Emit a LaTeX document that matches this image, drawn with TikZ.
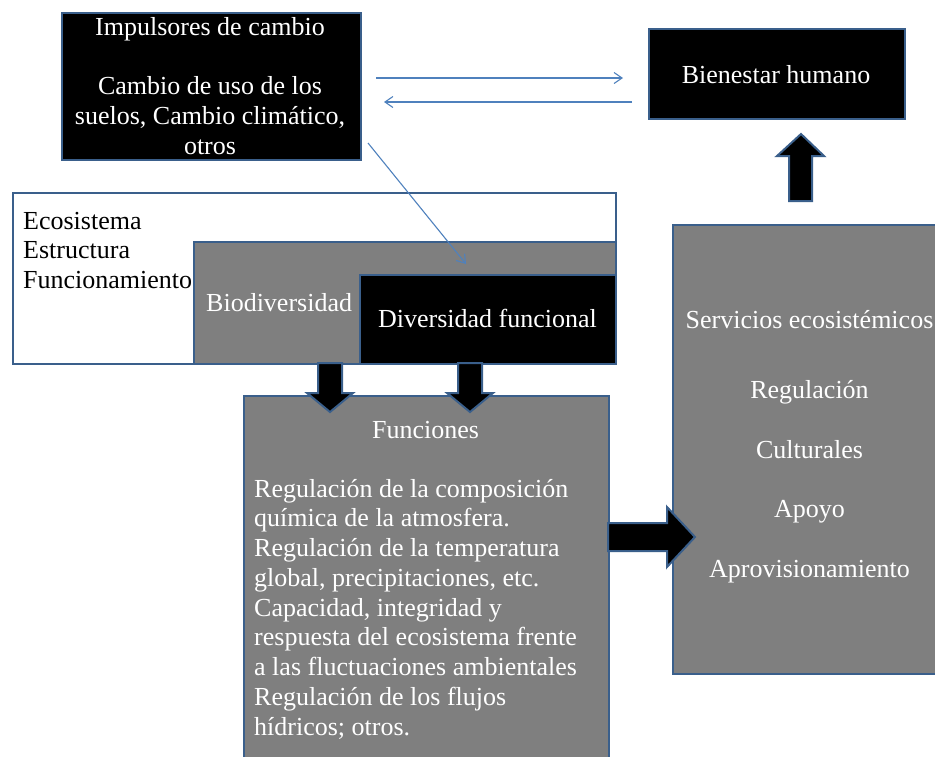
\documentclass[tikz,border=0pt]{standalone}
\usepackage{fontspec}
\setmainfont{Liberation Serif}
\usetikzlibrary{arrows.meta}
\definecolor{bord}{RGB}{58,95,139}
\definecolor{thin}{RGB}{79,129,189}
\definecolor{midgray}{RGB}{127,127,127}
\tikzset{
  box/.style={draw=bord, line width=2pt, inner sep=0pt, anchor=north west},
  txt/.style={font=\fontsize{26}{29.75}\selectfont, text=white, inner sep=0pt, anchor=base},
  txtl/.style={txt, anchor=base west},
  thinarrow/.style={draw=thin, line width=1.1pt, -{Straight Barb[length=8pt,width=11pt]}},
  blockarrow/.style={fill=black, draw=bord, line width=2pt, line join=miter}
}
\begin{document}
\begin{tikzpicture}[x=1pt,y=-1pt]
\useasboundingbox (0,0) rectangle (935,756);
% boxes
\node[box, fill=black, minimum width=299pt, minimum height=147pt] (imp) at (61,12) {};
\node[box, fill=black, minimum width=256pt, minimum height=90pt] (bien) at (648,28) {};
\node[box, fill=white, minimum width=603pt, minimum height=171pt] (eco) at (12,192) {};
\node[box, fill=midgray, minimum width=422pt, minimum height=122pt] (bio) at (193,241) {};
\node[box, fill=black, minimum width=256pt, minimum height=89pt] (div) at (359,274) {};
\node[box, fill=midgray, minimum width=365pt, minimum height=420pt] (fun) at (243,395) {};
\node[box, fill=midgray, minimum width=280pt, minimum height=449pt] (serv) at (672,224) {};
% texts
\node[txt] (t1) at (210,35) {Impulsores de cambio};
\node[txt] (t2) at (210,94.5) {Cambio de uso de los};
\node[txt] (t3) at (210,124.25) {suelos, Cambio climático,};
\node[txt] (t4) at (210,154) {otros};
\node[txt] (tb) at (776,83) {Bienestar humano};
\node[txtl, text=black] (e1) at (23,229) {Ecosistema};
\node[txtl, text=black] (e2) at (23,258.75) {Estructura};
\node[txtl, text=black] (e3) at (23,288.5) {Funcionamiento};
\node[txtl] (tbio) at (206,311) {Biodiversidad};
\node[txt] (tdiv) at (487.5,327) {Diversidad funcional};
\node[txt] (f0) at (425.5,438) {Funciones};
\node[txtl] (f1) at (254,497) {Regulación de la composición};
\node[txtl] (f2) at (254,526.75) {química de la atmosfera.};
\node[txtl] (f3) at (254,556.5) {Regulación de la temperatura};
\node[txtl] (f4) at (254,586.25) {global, precipitaciones, etc.};
\node[txtl] (f5) at (254,616) {Capacidad, integridad y};
\node[txtl] (f6) at (254,645.75) {respuesta del ecosistema frente};
\node[txtl] (f7) at (254,675.5) {a las fluctuaciones ambientales};
\node[txtl] (f8) at (254,705.25) {Regulación de los flujos};
\node[txtl] (f9) at (254,735) {hídricos; otros.};
\node[txt] (s0) at (809.5,328) {Servicios ecosistémicos};
\node[txt] (s1) at (809.5,398) {Regulación};
\node[txt] (s2) at (809.5,458) {Culturales};
\node[txt] (s3) at (809.5,517) {Apoyo};
\node[txt] (s4) at (809.5,577) {Aprovisionamiento};
% thin connectors
\coordinate (r1s) at (376,78);
\coordinate (r1e) at (623,78);
\coordinate (l1s) at (632,102);
\coordinate (l1e) at (384,102);
\coordinate (ds) at (368,143);
\coordinate (de) at (466,264);
\draw[thinarrow] (r1s) -- (r1e);
\draw[thinarrow] (l1s) -- (l1e);
\draw[thinarrow] (ds) -- (de);
% block arrows
\draw[blockarrow] (789,201) -- (789,156) -- (777,156) -- (801,134) -- (824,156) -- (812,156) -- (812,201) -- cycle;
\draw[blockarrow] (318,363) -- (318,393) -- (307,393) -- (330,412) -- (353,393) -- (342,393) -- (342,363) -- cycle;
\draw[blockarrow] (458,363) -- (458,393) -- (447,393) -- (470,412) -- (493,393) -- (482,393) -- (482,363) -- cycle;
\draw[blockarrow] (608,523) -- (667,523) -- (667,507) -- (695,537) -- (667,567) -- (667,551) -- (608,551) -- cycle;
\end{tikzpicture}
\end{document}
